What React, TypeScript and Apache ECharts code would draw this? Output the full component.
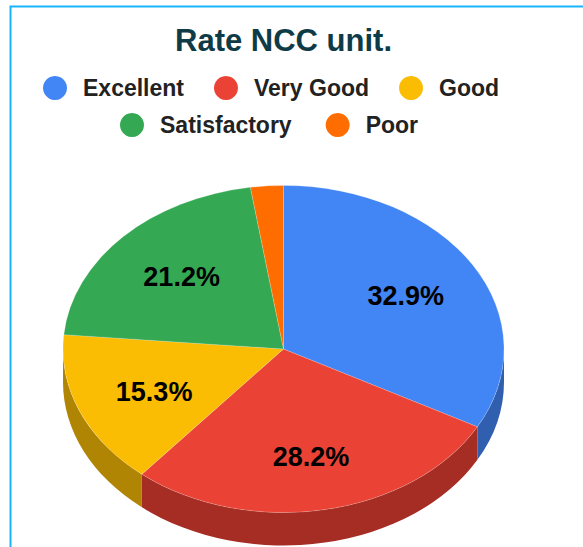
import React, { useEffect, useRef } from "react";
import * as echarts from "echarts";

const titleText = "Rate NCC unit.";
const categories = ["Excellent", "Very Good", "Good", "Satisfactory", "Poor"];
const percentValues = [32.9, 28.2, 15.3, 21.2, 2.4];
const topColors = ["#4285f4", "#ea4335", "#fbbc04", "#34a853", "#ff6d01"];
const sideColors = ["#2f5fae", "#a52d23", "#b08503", "#25783b", "#b54d01"];
const legendRowOne = ["Excellent", "Very Good", "Good"];
const legendRowTwo = ["Satisfactory", "Poor"];

const CX = 283.5;
const CY = 349;
const RX = 220.5;
const RY = 163.5;
const DEPTH = 33;
const FONT = "'Liberation Sans', Arial, sans-serif";

const total = percentValues.reduce((a, b) => a + b, 0);
const pt = (deg: number, dy = 0): [number, number] => {
  const t = (deg * Math.PI) / 180;
  return [CX + RX * Math.sin(t), CY - RY * Math.cos(t) + dy];
};
const fmt = (p: [number, number]) => `${p[0].toFixed(2)} ${p[1].toFixed(2)}`;

function renderSlice(index: number) {
  return (_params: any, api: any) => {
    const value = api.value(0) as number;
    let cum = 0;
    for (let i = 0; i < index; i++) cum += percentValues[i];
    const a0 = (cum / total) * 360;
    const a1 = ((cum + value) / total) * 360;
    const children: any[] = [];

    const s0 = Math.max(a0, 90);
    const s1 = Math.min(a1, 270);
    if (s1 > s0) {
      const large = s1 - s0 > 180 ? 1 : 0;
      children.push({
        type: "path",
        shape: {
          pathData:
            `M ${fmt(pt(s0))} A ${RX} ${RY} 0 ${large} 1 ${fmt(pt(s1))} ` +
            `L ${fmt(pt(s1, DEPTH))} A ${RX} ${RY} 0 ${large} 0 ${fmt(pt(s0, DEPTH))} Z`,
        },
        style: { fill: sideColors[index] },
      });
    }

    const large = a1 - a0 > 180 ? 1 : 0;
    children.push({
      type: "path",
      shape: {
        pathData: `M ${CX} ${CY} L ${fmt(pt(a0))} A ${RX} ${RY} 0 ${large} 1 ${fmt(pt(a1))} Z`,
      },
      style: { fill: topColors[index], stroke: "rgba(255,255,255,0.3)", lineWidth: 0.6 },
    });

    if (value >= 5) {
      const mid = (a0 + a1) / 2;
      const t = (mid * Math.PI) / 180;
      children.push({
        type: "text",
        style: {
          text: `${value.toFixed(1)}%`,
          x: CX + RX * 0.64 * Math.sin(t) + 1,
          y: CY - RY * 0.66 * Math.cos(t) + 2,
          textAlign: "center",
          textVerticalAlign: "middle",
          fill: "#000000",
          fontFamily: FONT,
          fontWeight: "bold",
          fontSize: 27,
        },
      });
    }
    return { type: "group", children };
  };
}

const legendBase = {
  orient: "horizontal",
  icon: "circle",
  itemWidth: 24,
  itemHeight: 24,
  padding: 0,
  selectedMode: false,
  textStyle: {
    fontFamily: FONT,
    fontWeight: "bold",
    fontSize: 23,
    color: "#222222",
    padding: [0, 0, 0, 11],
  },
};

export default function App() {
  const ref = useRef<HTMLDivElement>(null);
  useEffect(() => {
    if (!ref.current) return;
    const chart = echarts.init(ref.current, undefined, { renderer: "svg" });
    chart.setOption({
      animation: false,
      backgroundColor: "#ffffff",
      title: {
        text: titleText,
        left: 175,
        top: 25,
        padding: 0,
        textStyle: { fontFamily: FONT, fontWeight: "bold", fontSize: 31, color: "#0f3b47" },
      },
      legend: [
        { ...legendBase, itemGap: 30, left: 43, top: 76, data: legendRowOne },
        { ...legendBase, itemGap: 34, left: 120, top: 113, data: legendRowTwo },
      ],
      graphic: [
        {
          type: "polyline",
          silent: true,
          shape: { points: [[10.5, 560], [10.5, 6.5], [600, 6.5]] },
          style: { stroke: "#18b4f8", lineWidth: 2, fill: "none" },
        },
      ],
      series: categories.map((name, i) => ({
        type: "custom",
        name,
        coordinateSystem: "none",
        silent: true,
        itemStyle: { color: topColors[i] },
        data: [[percentValues[i]]],
        renderItem: renderSlice(i),
      })),
    });
    return () => chart.dispose();
  }, []);
  return (
    <div
      ref={ref}
      style={{ position: "absolute", left: 0, top: 0, width: 583, height: 547, overflow: "hidden" }}
    />
  );
}
